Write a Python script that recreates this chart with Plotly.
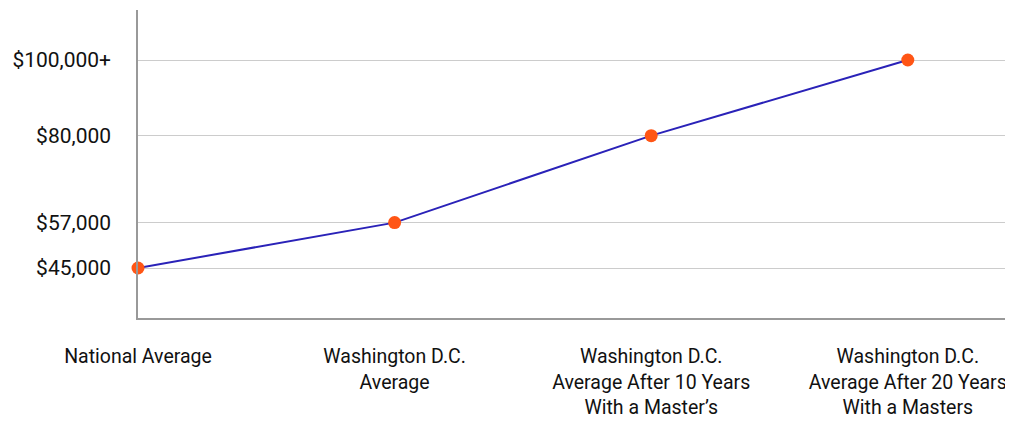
import plotly.graph_objects as go

categories = [
    "National Average",
    "Washington D.C.<br>Average",
    "Washington D.C.<br>Average After 10 Years<br>With a Master\u2019s",
    "Washington D.C.<br>Average After 20 Years<br>With a Masters",
]
salaries = [45000, 57000, 80000, 100000]
tick_values = [45000, 57000, 80000, 100000]
tick_labels = ["$45,000", "$57,000", "$80,000", "$100,000+"]

FONT = "Roboto, sans-serif"

fig = go.Figure()
fig.add_trace(go.Scatter(
    x=categories,
    y=salaries,
    mode="lines+markers",
    line=dict(color="#2a22b8", width=2),
    marker=dict(color="#ff5515", size=13),
    cliponaxis=False,
    showlegend=False,
))

fig.update_layout(
    width=1005,
    height=437,
    margin=dict(l=130, r=0, t=2, b=127),
    paper_bgcolor="white",
    plot_bgcolor="white",
    font=dict(family=FONT, size=20, color="#111111"),
    xaxis=dict(
        type="category",
        range=[0, 3.41],
        automargin=False,
        tickangle=0,
        showgrid=False,
        showline=True,
        linecolor="#999999",
        linewidth=1.5,
        ticks="outside",
        ticklen=20,
        tickcolor="rgba(0,0,0,0)",
        tickfont=dict(family=FONT, size=19.5, color="#111111"),
        zeroline=False,
    ),
    yaxis=dict(
        range=[31780, 113220],
        tickvals=tick_values,
        ticktext=tick_labels,
        automargin=False,
        showgrid=True,
        gridcolor="#cccccc",
        gridwidth=1,
        showline=True,
        linecolor="#999999",
        linewidth=1.5,
        ticks="outside",
        ticklen=21,
        tickcolor="rgba(0,0,0,0)",
        tickfont=dict(family=FONT, size=21, color="#111111"),
        zeroline=False,
    ),
)

fig.write_html("out.html")
